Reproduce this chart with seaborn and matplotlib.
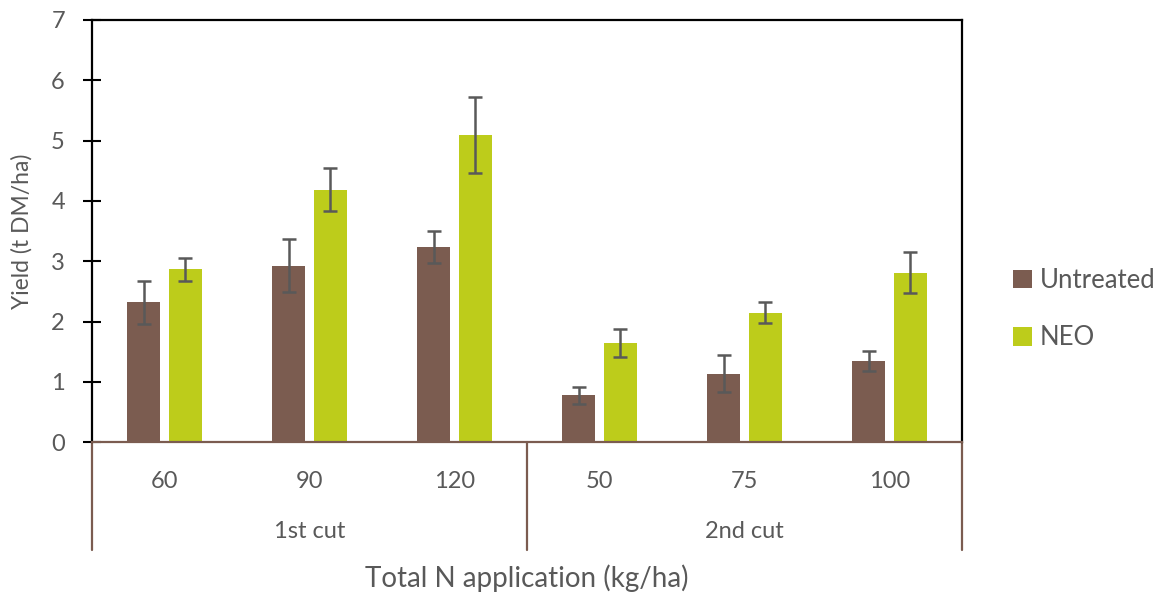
import numpy as np
import pandas as pd
import matplotlib
matplotlib.use("Agg")
import matplotlib.pyplot as plt
import seaborn as sns

# data
cuts = ["1st cut", "1st cut", "1st cut", "2nd cut", "2nd cut", "2nd cut"]
n_rates = ["60", "90", "120", "50", "75", "100"]
untreated = [2.32, 2.93, 3.24, 0.78, 1.14, 1.35]
untreated_err = [0.36, 0.44, 0.27, 0.14, 0.30, 0.17]
neo = [2.87, 4.19, 5.09, 1.64, 2.15, 2.81]
neo_err = [0.19, 0.36, 0.63, 0.23, 0.17, 0.34]
treatments = ["Untreated", "NEO"]

BROWN = "#7b5c50"
GREEN = "#bdcc1b"
TEXT = "#595959"

df = pd.DataFrame({
    "cut": cuts * 2,
    "rate": n_rates * 2,
    "treatment": ["Untreated"] * 6 + ["NEO"] * 6,
    "yield": untreated + neo,
})
errs = {"Untreated": untreated_err, "NEO": neo_err}

sns.set_theme(style="white")
plt.rcParams["font.family"] = ["Lato", "DejaVu Sans"]

fig = plt.figure(figsize=(11.63, 5.92), dpi=100)
ax = fig.add_axes([92 / 1163, 1 - 442.3 / 592, 870 / 1163, 422.3 / 592])

sns.barplot(data=df, x="rate", y="yield", hue="treatment", order=n_rates,
            hue_order=treatments, palette=[BROWN, GREEN], width=0.568, gap=0.2,
            errorbar=None, saturation=1, edgecolor="none", legend=True, ax=ax)

# error bars on the bar centres seaborn placed
for cont, name in zip(ax.containers, treatments):
    xs = [b.get_x() + b.get_width() / 2 for b in cont]
    hs = [b.get_height() for b in cont]
    ax.errorbar(xs, hs, yerr=errs[name], fmt="none", ecolor=TEXT,
                elinewidth=1.8, capsize=4.8, capthick=1.8, zorder=5)

ax.set_xlim(-0.5, len(n_rates) - 0.5)
ax.set_ylim(0, 7)
ax.set_yticks(range(0, 8))

for side in ["left", "top", "right"]:
    ax.spines[side].set_color("black")
    ax.spines[side].set_linewidth(1.6)
ax.spines["bottom"].set_color(BROWN)
ax.spines["bottom"].set_linewidth(1.6)

ax.tick_params(axis="y", direction="inout", length=13, width=1.5, color="black",
               labelsize=17, labelcolor=TEXT, pad=13, left=True)
ax.tick_params(axis="x", length=0, labelsize=17, labelcolor=TEXT, pad=21)

# second level of the category axis
trans = ax.get_xaxis_transform()
for xpos in [-0.5, 2.5, 5.5]:
    ax.plot([xpos, xpos], [0, -0.255], transform=trans, color=BROWN,
            lw=1.6, clip_on=False)
for i, cut in enumerate(["1st cut", "2nd cut"]):
    ax.text(1 + 3 * i, -0.2124, cut, transform=trans, ha="center", va="center",
            fontsize=17, color=TEXT)

ax.set_ylabel("Yield (t DM/ha)", fontsize=16.5, color=TEXT, va="center")
ax.yaxis.set_label_coords(-0.0805, 0.5)
ax.set_xlabel("Total N application (kg/ha)", fontsize=20, color=TEXT, va="center")
ax.xaxis.set_label_coords(0.5, -0.321)

handles, labels = ax.get_legend_handles_labels()
ax.get_legend().remove()
fig.legend(handles, labels, loc="center left",
           bbox_to_anchor=(990 / 1163, 1 - 309 / 592), frameon=False,
           fontsize=18.5, handlelength=0.75, handleheight=0.75,
           handletextpad=0.3, labelspacing=1.25, labelcolor=TEXT)

fig.savefig("out.png", dpi=100)
